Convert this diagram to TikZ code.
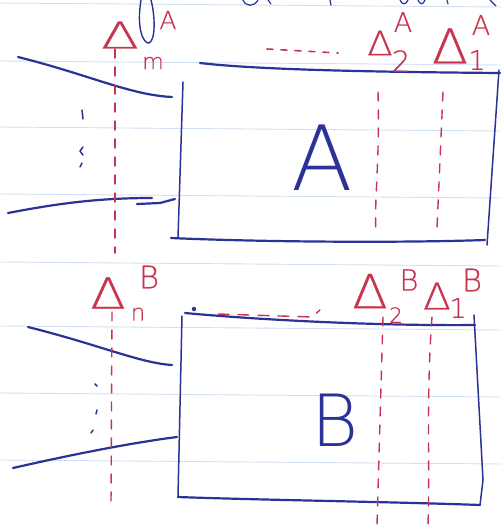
\documentclass[tikz,border=0pt]{standalone}
\usepackage{fontspec}
\usepackage{graphicx}
\newfontfamily\hand{DejaVuSans-ExtraLight.ttf}
\newfontfamily\handred{DejaVuSans-ExtraLight.ttf}[FakeBold=0.5]
\definecolor{penblue}{RGB}{42,50,152}
\definecolor{penred}{RGB}{200,52,78}
\definecolor{rulecol}{RGB}{208,224,242}
\newcommand{\wD}[1]{\scalebox{#1}[1]{Δ}}
\tikzset{
  pen/.style={draw=penblue, line width=2.2pt, line cap=round, line join=round},
  sidepen/.style={draw=penblue, line width=1.5pt, line cap=round, line join=round},
  redline/.style={draw=penred, line width=1.4pt, dash pattern=on 9pt off 9pt, line cap=round},
  reddots/.style={draw=penred, line width=1.6pt, dash pattern=on 6pt off 8pt, line cap=round},
  rule/.style={draw=rulecol, line width=0.9pt},
  dl/.style={text=penred, inner sep=0pt, font=\handred\fontsize{#1}{#1}\selectfont},
  bigl/.style={text=penblue, inner sep=0pt, font=\hand\fontsize{#1}{#1}\selectfont}
}
\begin{document}
\begin{tikzpicture}[x=1pt,y=-1pt]
\fill[white] (0,0) rectangle (501,525);
\useasboundingbox (0,0) rectangle (501,525);
% ruled paper
\foreach \yl in {3,61,127,194,262,326,393,460}
  \draw[rule] (0,\yl) -- (501,\yl+4);
% fragments of the line above
\draw[sidepen,line width=1.2pt] (243,0) .. controls (246,7) and (254,7) .. (258,0);
\draw[sidepen,line width=1.2pt] (268,0) -- (271,4);
\draw[sidepen,line width=1.2pt] (330,0) -- (331,5);
\draw[sidepen,line width=1.2pt] (400,0) .. controls (402,5) and (406,5) .. (408,0);
\draw[sidepen,line width=1.2pt] (418,0) .. controls (420,5) and (423,5) .. (425,0);
\draw[sidepen,line width=1.2pt] (447,0) -- (448,4);
\draw[sidepen,line width=1.2pt] (490,0) -- (496,6);
\draw[sidepen,line width=1.4pt] (141,0) .. controls (136,30) and (144,44) .. (149,43) .. controls (156,40) and (155,15) .. (151,0);

% ================= block A =================
\coordinate (atl) at (183,82);
\coordinate (abl) at (178,238);
\coordinate (atr) at (499,70);
\coordinate (abr) at (487,245);
\draw[pen] (200,63) .. controls (260,70) and (380,72) .. (500,73);
\draw[sidepen] (atl) -- (abl);
\draw[pen] (171,238) .. controls (260,242) and (400,243) .. (485,240);
\draw[sidepen] (atr) -- (abr);
\node[bigl=90] (A) at (322,158) {A};
% inputs of A
\draw[pen] (18,57) .. controls (90,75) and (130,95) .. (172,97);
\draw[pen] (8,213) .. controls (60,203) and (100,198) .. (152,198);
\draw[pen] (137,204) -- (160,203) -- (175,199);
\draw[sidepen] (82,110) -- (83,119);
\draw[sidepen] (83,147) -- (80,151) -- (83,155);
\draw[sidepen] (82,163) -- (80,167);
% labels of A
\node[dl=37] (dmA) at (120,35) {\wD{1.5}};
\node[dl=22] (dmAs) at (153,63) {m};
\node[dl=25] (dmAp) at (168,20) {A};
\node[dl=34] (d2A) at (380,43) {\wD{1.1}};
\node[dl=29] (d2As) at (401,61) {2};
\node[dl=27] (d2Ap) at (403,22) {A};
\node[dl=48] (d1A) at (450,46) {\wD{1.1}};
\node[dl=27] (d1As) at (477,60) {1};
\node[dl=27] (d1Ap) at (481,25) {A};
\draw[reddots] (267,49) -- (338,53);
\coordinate (mAtop) at (115,49);
\coordinate (mAbot) at (115,253);
\coordinate (twoAtop) at (378,92);
\coordinate (twoAbot) at (376,233);
\coordinate (oneAtop) at (443,92);
\coordinate (oneAbot) at (437,228);
\draw[redline] (mAtop) -- (mAbot);
\draw[redline] (twoAtop) .. controls (380,160) and (374,200) .. (twoAbot);
\draw[redline] (oneAtop) -- (oneAbot);

% ================= block B =================
\coordinate (btl) at (182,316);
\coordinate (bbl) at (178,497);
\coordinate (btr) at (474,315);
\coordinate (bmr) at (483,480);
\coordinate (bbr) at (480,505);
\draw[pen] (185,313) .. controls (260,320) and (380,326) .. (475,325);
\fill[penblue] (194,309) circle (2.2pt);
\draw[sidepen] (btl) -- (bbl);
\draw[pen] (bbl) .. controls (260,500) and (400,502) .. (bbr);
\draw[sidepen] (btr) -- (bmr) -- (bbr);
\node[bigl=72] (B) at (335,420) {B};
% inputs of B
\draw[pen] (28,327) .. controls (100,345) and (140,363) .. (172,365);
\draw[pen] (13,468) .. controls (70,455) and (130,443) .. (177,437);
\draw[sidepen] (95,384) -- (97,386);
\draw[sidepen] (97,410) -- (96,414);
\draw[sidepen] (93,430) -- (91,433);
% labels of B
\node[dl=43] (dnB) at (108,293) {\wD{1.2}};
\node[dl=23] (dnBs) at (138,314) {n};
\node[dl=31] (dnBp) at (149,277) {B};
\node[dl=47] (d2B) at (370,291) {\wD{1.1}};
\node[dl=21] (d2Bs) at (396,315) {2};
\node[dl=29] (d2Bp) at (409,280) {B};
\node[dl=37] (d1B) at (437,296) {\wD{1.1}};
\node[dl=27] (d1Bs) at (458,308) {1};
\node[dl=31] (d1Bp) at (472,280) {B};
\draw[redline, dash pattern=on 11pt off 9pt] (218,314) -- (312,317) -- (320,310);
\coordinate (nBtop) at (112,312);
\coordinate (nBbot) at (111,505);
\coordinate (twoBtop) at (383,317);
\coordinate (twoBbot) at (377,525);
\coordinate (oneBtop) at (432,317);
\coordinate (oneBbot) at (428,525);
\draw[redline] (nBtop) -- (nBbot);
\draw[redline] (twoBtop) -- (twoBbot);
\draw[redline] (oneBtop) .. controls (426,400) and (430,460) .. (oneBbot);
\end{tikzpicture}
\end{document}
